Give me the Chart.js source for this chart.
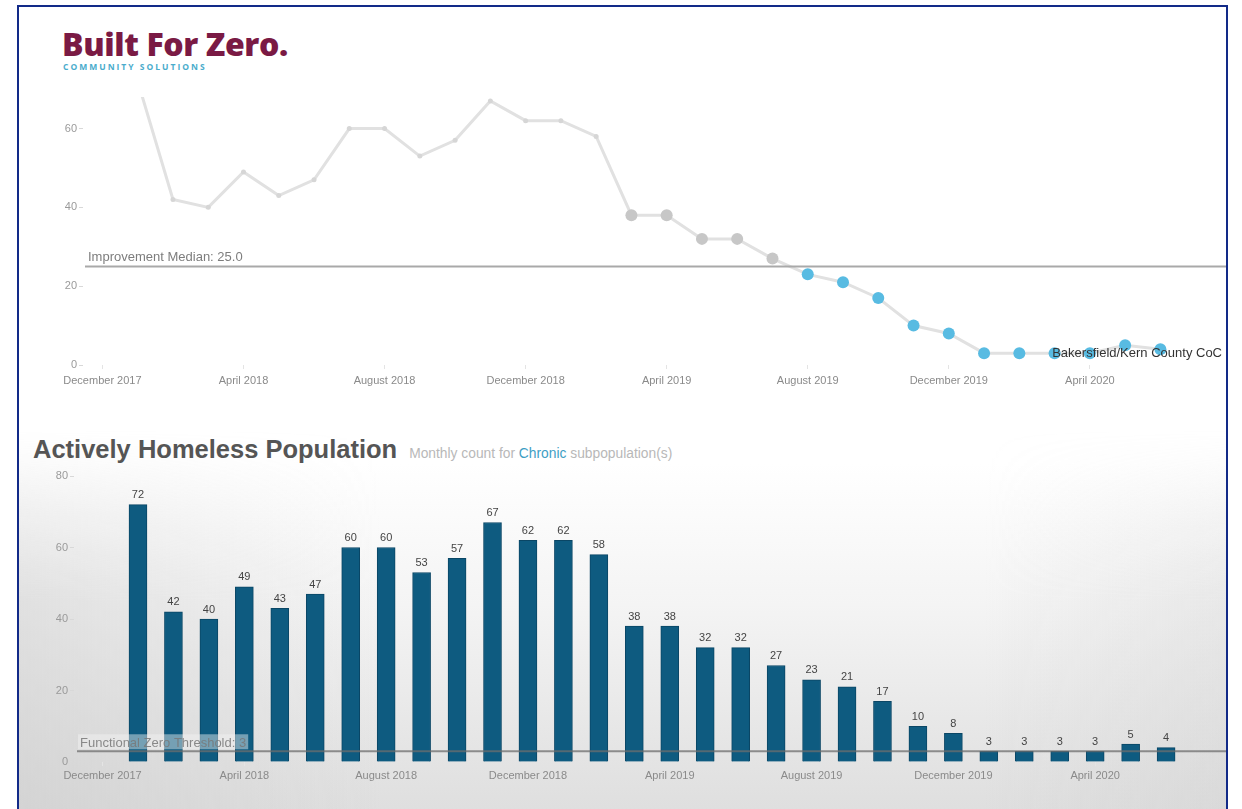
<!DOCTYPE html>
<html>
<head>
<meta charset="utf-8">
<script src="https://cdn.jsdelivr.net/npm/chart.js@4.4.1/dist/chart.umd.min.js"></script>
<style>
  body { margin:0; width:1242px; height:809px; overflow:hidden; background:#fff; position:relative; font-family:"Liberation Sans", Arial, sans-serif; }
  .frame { position:absolute; left:17px; top:5px; width:1207px; height:830px; border:2px solid #122a88;
    background: linear-gradient(to bottom, #fff 0%, #fff 55%, #f4f4f4 72%, #e6e6e6 88%, #dcdcdc 100%); }
  .shade { position:absolute; left:19px; top:430px; width:1207px; height:379px;
    background: linear-gradient(to right, rgba(195,195,195,0.4), rgba(255,255,255,0) 30%, rgba(255,255,255,0) 80%, rgba(205,205,205,0.3));
    -webkit-mask-image: linear-gradient(to bottom, transparent 0%, black 45%); mask-image: linear-gradient(to bottom, transparent 0%, black 45%); }
  .logo { position:absolute; left:62px; top:28px; font-family:"Open Sans", sans-serif; font-weight:800; font-size:32px; color:#7a1a44; letter-spacing:-0.4px; line-height:1; }
  .sub { position:absolute; left:63px; top:63px; font-family:"Open Sans", sans-serif; font-weight:700; font-size:8.5px; color:#4aaccc; letter-spacing:2px; line-height:1; }
  .title { position:absolute; left:33px; top:435px; display:flex; align-items:baseline; white-space:nowrap; }
  .title b { font-size:25.5px; color:#555; }
  .title span { font-size:13.8px; color:#b8b8b8; margin-left:12px; }
  .title span i { font-style:normal; color:#3d9ec4; }
  canvas { position:absolute; left:0; }
  #top { top:87px; }
  #bottom { top:466px; }
</style>
</head>
<body>
<div class="frame"></div>
<div class="shade"></div>
<div class="logo">Built For Zero.</div>
<div class="sub">COMMUNITY SOLUTIONS</div>
<div class="title"><b>Actively Homeless Population</b><span>Monthly count for <i>Chronic</i> subpopulation(s)</span></div>
<canvas id="top" width="1226" height="302"></canvas>
<canvas id="bottom" width="1226" height="320"></canvas>
<script>
const monthNames = ['January','February','March','April','May','June','July','August','September','October','November','December'];

const months = [
  'January 2018','February 2018','March 2018','April 2018','May 2018','June 2018',
  'July 2018','August 2018','September 2018','October 2018','November 2018','December 2018',
  'January 2019','February 2019','March 2019','April 2019','May 2019','June 2019',
  'July 2019','August 2019','September 2019','October 2019','November 2019','December 2019',
  'January 2020','February 2020','March 2020','April 2020','May 2020','June 2020'
];
const counts = [72,42,40,49,43,47,60,60,53,57,67,62,62,58,38,38,32,32,27,23,21,17,10,8,3,3,3,3,5,4];
const tickLabels = ['December 2017','April 2018','August 2018','December 2018','April 2019','August 2019','December 2019','April 2020'];
const yTicksTop = [0,20,40,60];
const yTicksBottom = [0,20,40,60,80];

const improvementMedian = 25.0;
const improvementStart = 'March 2019';
const zeroThreshold = 3;
const seriesName = 'Bakersfield/Kern County CoC';

// month label -> number of months after December 2017
function monthNo(label) {
  const parts = label.split(' ');
  return (Number(parts[1]) - 2017) * 12 + monthNames.indexOf(parts[0]) - 11;
}

const points = months.map((m, i) => ({x: monthNo(m), y: counts[i]}));
const tickPos = tickLabels.map(monthNo);

const font = '"Liberation Sans", Arial, sans-serif';
const lineGray = '#e1e1e1';
const dotGray = '#c7c7c7';
const dotBlue = '#58bbe2';
const barBlue = '#0e5b80';

const xAxis = (min, max, pad) => ({
  type: 'linear',
  min: min,
  max: max,
  offset: false,
  afterBuildTicks: scale => { scale.ticks = tickPos.map(v => ({value: v})); },
  afterFit: scale => { scale.height = 24; },
  grid: { drawOnChartArea: false, tickLength: 4, color: '#e4e4e4', offset: false },
  border: { display: false },
  ticks: { color: '#8a8a8a', font: { family: font, size: 11 }, padding: pad, maxRotation: 0,
    callback: (v, i) => tickLabels[i] }
});

const yAxis = (max, width, ticks) => ({
  min: 0,
  max: max,
  afterBuildTicks: scale => { scale.ticks = ticks.map(v => ({value: v})); },
  afterFit: scale => { scale.width = width; },
  grid: { drawOnChartArea: false, tickLength: 4, color: '#d8d8d8' },
  border: { display: false },
  ticks: { color: '#9a9a9a', font: { family: font, size: 11 }, padding: 2 }
});

const topLabels = {
  id: 'topLabels',
  afterDatasetsDraw(chart) {
    const ctx = chart.ctx;
    const area = chart.chartArea;
    const y = chart.scales.y;
    const yy = y.getPixelForValue(improvementMedian);
    ctx.save();
    ctx.strokeStyle = '#a9a9a9';
    ctx.lineWidth = 2;
    ctx.beginPath();
    ctx.moveTo(area.left + 2, yy);
    ctx.lineTo(chart.width, yy);
    ctx.stroke();
    ctx.fillStyle = '#7d7d7d';
    ctx.font = '13px ' + font;
    ctx.textBaseline = 'alphabetic';
    ctx.fillText('Improvement Median: ' + improvementMedian.toFixed(1), area.left + 5, yy - 5);
    ctx.fillStyle = '#333';
    ctx.font = '13px ' + font;
    ctx.textAlign = 'right';
    ctx.textBaseline = 'middle';
    ctx.fillText(seriesName, chart.width - 4, y.getPixelForValue(counts[counts.length - 1]) + 4);
    ctx.restore();
  }
};

const bottomLabels = {
  id: 'bottomLabels',
  afterDatasetsDraw(chart) {
    const ctx = chart.ctx;
    const area = chart.chartArea;
    const meta = chart.getDatasetMeta(0);
    ctx.save();
    ctx.fillStyle = '#444';
    ctx.font = '11px ' + font;
    ctx.textAlign = 'center';
    ctx.textBaseline = 'bottom';
    meta.data.forEach((bar, i) => {
      ctx.fillText(counts[i], bar.x, bar.y - 4);
    });
    const yy = chart.scales.y.getPixelForValue(zeroThreshold);
    ctx.strokeStyle = 'rgba(110,110,110,0.75)';
    ctx.lineWidth = 2;
    ctx.beginPath();
    ctx.moveTo(area.left + 3, yy);
    ctx.lineTo(chart.width, yy);
    ctx.stroke();
    ctx.font = '13px ' + font;
    ctx.textAlign = 'left';
    ctx.textBaseline = 'alphabetic';
    const txt = 'Functional Zero Threshold: ' + zeroThreshold;
    const w = ctx.measureText(txt).width;
    ctx.fillStyle = 'rgba(245,245,245,0.45)';
    ctx.fillRect(area.left + 4, yy - 17, w + 4, 15);
    ctx.fillStyle = 'rgba(120,120,120,0.85)';
    ctx.fillText(txt, area.left + 6, yy - 4);
    ctx.restore();
  }
};

const startNo = monthNo(improvementStart);

new Chart(document.getElementById('top'), {
  type: 'line',
  data: {
    datasets: [{
      data: points,
      borderColor: lineGray,
      borderWidth: 3,
      tension: 0,
      pointBorderWidth: 0,
      pointRadius: c => (c.raw.x >= startNo ? 6 : 2.5),
      pointBackgroundColor: c => (c.raw.x < startNo ? '#d6d6d6' : (c.raw.y < improvementMedian ? dotBlue : dotGray))
    }]
  },
  options: {
    responsive: false,
    animation: false,
    layout: { padding: { top: 10, bottom: 0, left: 0, right: 0 } },
    plugins: { legend: { display: false }, tooltip: { enabled: false } },
    scales: {
      x: xAxis(-0.551, 31.69, 5),
      y: yAxis(68, 83, yTicksTop)
    }
  },
  plugins: [topLabels]
});

new Chart(document.getElementById('bottom'), {
  type: 'bar',
  data: {
    datasets: [{
      data: points,
      backgroundColor: barBlue,
      borderColor: '#0a4665',
      borderWidth: 1,
      barThickness: 18
    }]
  },
  options: {
    responsive: false,
    animation: false,
    layout: { padding: { top: 10, bottom: 0, left: 0, right: 0 } },
    plugins: { legend: { display: false }, tooltip: { enabled: false } },
    scales: {
      x: xAxis(-0.805, 31.69, 3),
      y: yAxis(80, 74, yTicksBottom)
    }
  },
  plugins: [bottomLabels]
});
</script>
</body>
</html>
